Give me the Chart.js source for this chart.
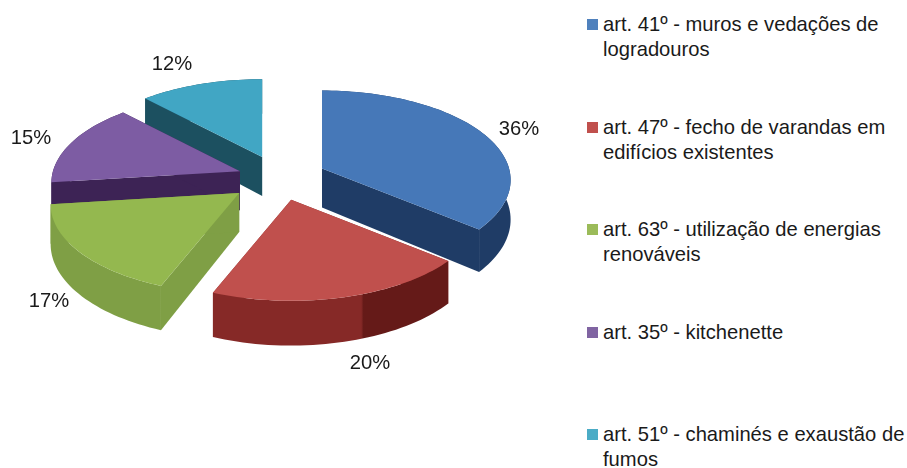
<!DOCTYPE html>
<html lang="pt">
<head>
<meta charset="utf-8">
<title>Artigos</title>
<script src="https://cdn.jsdelivr.net/npm/chart.js@4"></script>
<style>
    html, body { margin: 0; background: #fff; }
    #wrap { position: relative; width: 907px; height: 468px; overflow: hidden; }
    #legend {
        position: absolute; left: 587px; top: 12px; width: 320px;
        font: 20.2px "Liberation Sans", sans-serif; line-height: 25px; color: #1a1a1a;
    }
    .legend-item { display: flex; height: 102.5px; }
    .legend-box { flex: none; width: 11px; height: 11px; margin: 7px 5px 0 0; }
    .legend-text { width: 304px; }
</style>
</head>
<body>
<div id="wrap">
    <canvas id="pie" width="580" height="468"></canvas>
    <div id="legend"></div>
</div>
<script>
const categories = [
    'art. 41º - muros e vedações de logradouros',
    'art. 47º - fecho de varandas em edifícios existentes',
    'art. 63º - utilização de energias renováveis',
    'art. 35º - kitchenette',
    'art. 51º - chaminés e exaustão de fumos'
];
const shares = [36, 20, 17, 15, 12];
const topColors = ['#4678b8', '#c0504d', '#94b84f', '#7d5ca3', '#41a6c4'];
const legendColors = ['#4f81bd', '#c0504d', '#9bbb59', '#8064a2', '#4bacc6'];
const sideColors = [['#1f3c66', '#1f3c66'], ['#862927', '#651a18'], ['#7f9f45', '#7f9f45'], ['#3d2355', '#3d2355'], ['#1c5060', '#1c5060']];

// tilted view of the flat pie
const view = { cx: 279.5, cy: 178, tilt: 0.47, flat: 0.48, persp: 1446, depth: 39 };
const explode = [47, 47, 51, 42, 47];
const paintOrder = [4, 3, 0, 2, 1];
const labelSpots = [[519, 129], [370, 363], [49, 301], [31, 138], [172, 64]];

function apexOf(el) {
    const mid = (el.startAngle + el.endAngle) / 2;
    return {
        x: view.cx + Math.cos(mid) * el.options.offset,
        y: view.cy + Math.sin(mid) * el.options.offset * view.flat
    };
}

function project(apex, angle, r, drop) {
    const dx = Math.cos(angle) * r;
    const dy = Math.sin(angle) * r;
    const s = 1 / (1 - dy / view.persp);
    return { x: apex.x + dx * s, y: apex.y + dy * view.tilt * s + drop * s };
}

function rimPoints(el, apex, drop) {
    const pts = [];
    const steps = Math.ceil((el.endAngle - el.startAngle) / 0.03);
    for (let k = 0; k <= steps; k++) {
        const a = el.startAngle + (el.endAngle - el.startAngle) * k / steps;
        pts.push(project(apex, a, el.outerRadius, drop));
    }
    return pts;
}

function fillPoly(ctx, pts, color) {
    ctx.beginPath();
    pts.forEach((p, k) => k ? ctx.lineTo(p.x, p.y) : ctx.moveTo(p.x, p.y));
    ctx.closePath();
    ctx.fillStyle = color;
    ctx.fill();
}

const tiltedPie = {
    id: 'tiltedPie',
    beforeDatasetDraw(chart) {
        const ctx = chart.ctx;
        const arcs = chart.getDatasetMeta(0).data;
        paintOrder.forEach(i => {
            const el = arcs[i];
            const apex = apexOf(el);
            const low = { x: apex.x, y: apex.y + view.depth };
            const upper = rimPoints(el, apex, 0);
            const lower = rimPoints(el, apex, view.depth);
            const xs = upper.map(p => p.x);
            const grad = ctx.createLinearGradient(Math.min(...xs), 0, Math.max(...xs), 0);
            grad.addColorStop(0.63, sideColors[i][0]);
            grad.addColorStop(0.64, sideColors[i][1]);
            // two flat walls, then the rim, then the top face
            fillPoly(ctx, [apex, upper[0], lower[0], low], sideColors[i][0]);
            fillPoly(ctx, [apex, upper[upper.length - 1], lower[lower.length - 1], low], sideColors[i][0]);
            fillPoly(ctx, upper.concat(lower.slice().reverse()), grad);
            fillPoly(ctx, [apex].concat(upper), el.options.backgroundColor);
        });
        return false;
    },
    afterDatasetsDraw(chart) {
        const ctx = chart.ctx;
        ctx.font = '20.2px "Liberation Sans", sans-serif';
        ctx.fillStyle = '#1a1a1a';
        ctx.textAlign = 'center';
        ctx.textBaseline = 'middle';
        shares.forEach((v, i) => ctx.fillText(v + '%', labelSpots[i][0], labelSpots[i][1]));
    }
};

new Chart(document.getElementById('pie'), {
    type: 'pie',
    data: {
        labels: categories,
        datasets: [{
            data: shares,
            backgroundColor: topColors,
            borderWidth: 0,
            offset: explode,
            radius: 187
        }]
    },
    options: {
        responsive: false,
        animation: false,
        plugins: {
            legend: { display: false },
            tooltip: { enabled: false }
        }
    },
    plugins: [tiltedPie]
});

// Legend as plain text next to the chart
const legend = document.getElementById('legend');
categories.forEach((name, i) => {
    legend.innerHTML += `<div class="legend-item"><span class="legend-box" style="background:${legendColors[i]}"></span><span class="legend-text">${name}</span></div>`;
});
</script>
</body>
</html>
